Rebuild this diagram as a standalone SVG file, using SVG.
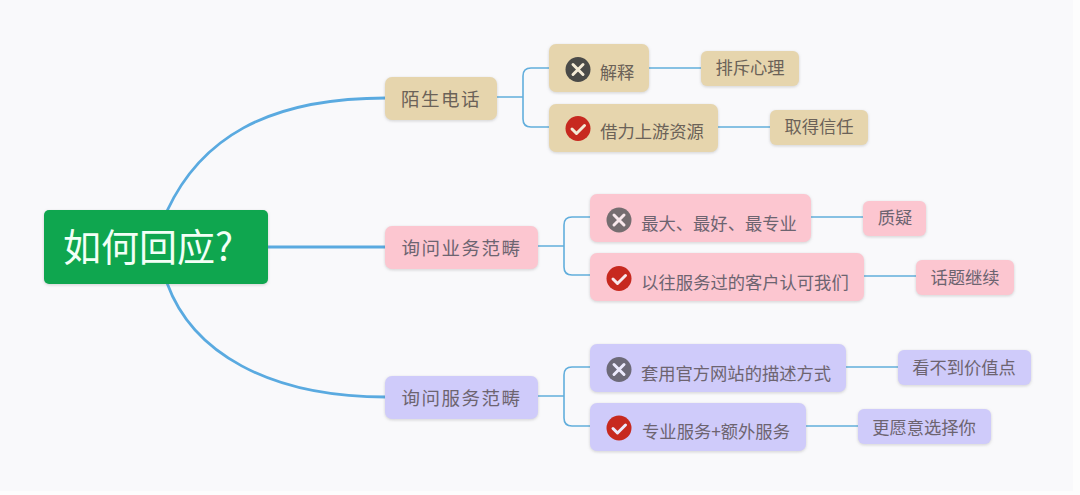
<svg xmlns="http://www.w3.org/2000/svg" width="1080" height="495" viewBox="0 0 1080 495">
<style>
text{font-family:"Noto Sans CJK SC","Liberation Sans",sans-serif;text-anchor:middle;dominant-baseline:central}
.main{fill:none;stroke:#5aaae0;stroke-width:2.800}
.sub{fill:none;stroke:#62aedc;stroke-width:1.600}
.tan rect{fill:#e6d5ad}.pink rect{fill:#fcc6d0}.vio rect{fill:#cfcbfa}
.n rect{filter:drop-shadow(0 1px 1.5px rgba(90,90,90,.25))}
.t1{font-size:18.500px;fill:#6b6258;letter-spacing:1.500px}
.t2{font-size:17.300px;fill:#6b6258}
.pink text,.vio text{fill:#6d6470}
</style>
<rect width="1080" height="495" fill="#fdfdfd"/>
<rect width="1073" height="491" fill="#f9f9fb"/>
<g id="connectors">
<path class="main" d="M167 211C200 140 265 98 386 98"/>
<path class="main" d="M268 247H386"/>
<path class="main" d="M167 283C192 352 268 397 386 397"/>
<path class="sub" d="M497 97H523M549 68H531Q523 68 523 76V119Q523 127 531 127H549"/>
<path class="sub" d="M649 68H701M718 127H770"/>
<path class="sub" d="M538 246H564M590 217H572Q564 217 564 225V267Q564 275 572 275H590"/>
<path class="sub" d="M811 217H863M864 276H916"/>
<path class="sub" d="M538 396H564M590 367H572Q564 367 564 375V418Q564 426 572 426H590"/>
<path class="sub" d="M846 367H898M806 426H858"/>
</g>
<g id="root" class="n"><rect x="44" y="210" width="224" height="74" rx="5" fill="#0fa64f"/><text x="148" y="244" style="fill:#f2fff6;font-size:38px">如何回应?</text></g>
<g id="n1" class="n tan"><rect x="385" y="77" width="112" height="43" rx="7"/><text class="t1" x="441" y="97.500">陌生电话</text></g>
<g id="n11" class="n tan"><rect x="549" y="44" width="100" height="48" rx="7"/><circle cx="578" cy="69.500" r="12.500" fill="#4a4a48"/><path d="M573 64.500l10 10M583 64.500l-10 10" stroke="#f3ead6" stroke-width="3" stroke-linecap="round"/><text class="t2" x="617" y="71">解释</text></g>
<g id="n111" class="n tan"><rect x="701" y="51" width="98" height="35" rx="6"/><text class="t2" x="750" y="66.500">排斥心理</text></g>
<g id="n12" class="n tan"><rect x="549" y="104" width="169" height="48" rx="7"/><circle cx="578" cy="128.500" r="12.500" fill="#c7291f"/><path d="M572 129l4.500 4.500 8-8" fill="none" stroke="#f3ead6" stroke-width="3" stroke-linecap="round" stroke-linejoin="round"/><text class="t2" x="652" y="130.500">借力上游资源</text></g>
<g id="n121" class="n tan"><rect x="770" y="110" width="98" height="35" rx="6"/><text class="t2" x="819" y="125.500">取得信任</text></g>
<g id="n2" class="n pink"><rect x="385" y="226" width="153" height="43" rx="7"/><text class="t1" x="461.500" y="246.500">询问业务范畴</text></g>
<g id="n21" class="n pink"><rect x="590" y="194" width="221" height="48" rx="7"/><circle cx="619" cy="220" r="12.500" fill="#756d70"/><path d="M614 215l10 10M624 215l-10 10" stroke="#f8e8ec" stroke-width="3" stroke-linecap="round"/><text class="t2" x="719" y="222">最大、最好、最专业</text></g>
<g id="n211" class="n pink"><rect x="863" y="201" width="63" height="35" rx="6"/><text class="t2" x="895" y="216">质疑</text></g>
<g id="n22" class="n pink"><rect x="590" y="253" width="274" height="48" rx="7"/><circle cx="619" cy="278.500" r="12.500" fill="#c7291f"/><path d="M613 279l4.500 4.500 8-8" fill="none" stroke="#f8e8ec" stroke-width="3" stroke-linecap="round" stroke-linejoin="round"/><text class="t2" x="745" y="281">以往服务过的客户认可我们</text></g>
<g id="n221" class="n pink"><rect x="916" y="260" width="98" height="35" rx="6"/><text class="t2" x="965" y="276">话题继续</text></g>
<g id="n3" class="n vio"><rect x="385" y="376" width="153" height="43" rx="7"/><text class="t1" x="461.500" y="396.500">询问服务范畴</text></g>
<g id="n31" class="n vio"><rect x="590" y="344" width="256" height="48" rx="7"/><circle cx="619" cy="369.500" r="12.500" fill="#6d6a78"/><path d="M614 364.500l10 10M624 364.500l-10 10" stroke="#eceafc" stroke-width="3" stroke-linecap="round"/><text class="t2" x="736" y="372">套用官方网站的描述方式</text></g>
<g id="n311" class="n vio"><rect x="898" y="350" width="133" height="35" rx="6"/><text class="t2" x="964" y="366">看不到价值点</text></g>
<g id="n32" class="n vio"><rect x="590" y="403" width="216" height="48" rx="7"/><circle cx="619" cy="428" r="12.500" fill="#c7291f"/><path d="M613 428.500l4.500 4.500 8-8" fill="none" stroke="#eceafc" stroke-width="3" stroke-linecap="round" stroke-linejoin="round"/><text class="t2" x="716" y="430">专业服务+额外服务</text></g>
<g id="n321" class="n vio"><rect x="858" y="409" width="133" height="35" rx="6"/><text class="t2" x="924" y="426">更愿意选择你</text></g>
</svg>
